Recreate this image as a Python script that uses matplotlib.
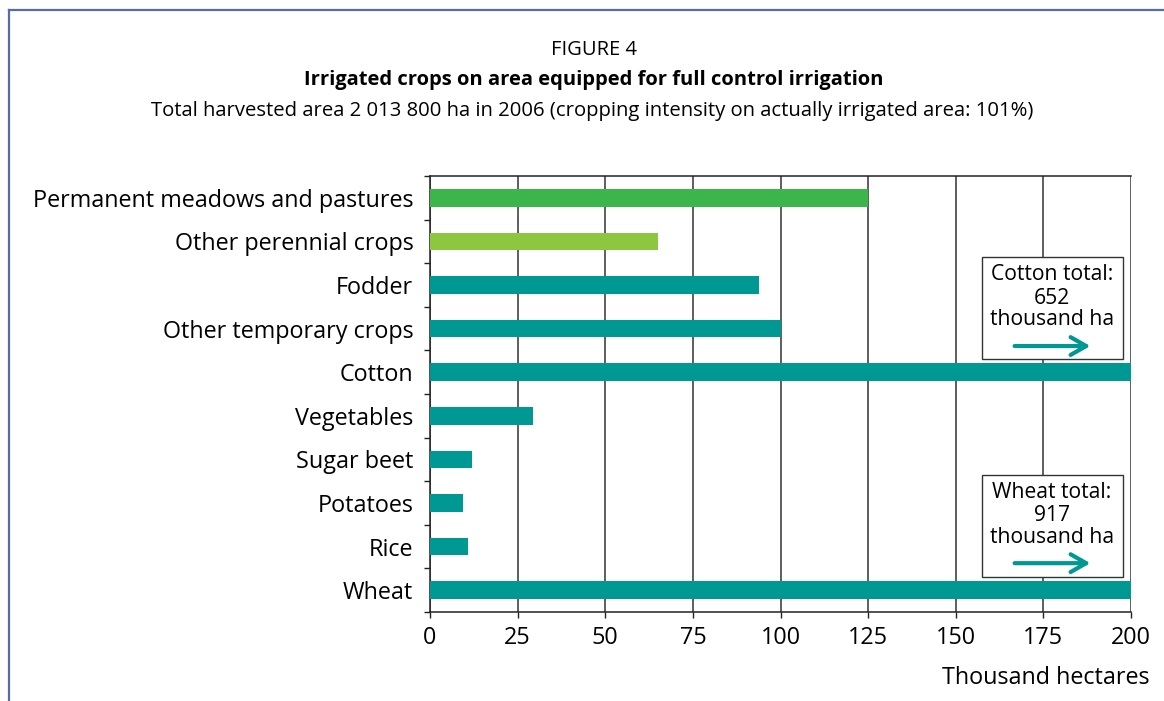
import matplotlib
matplotlib.use("Agg")
import matplotlib.pyplot as plt
from matplotlib.patches import Rectangle, FancyArrowPatch
from matplotlib.lines import Line2D
import numpy as np

plt.rcParams['font.family'] = ['Open Sans', 'DejaVu Sans']

# Irrigated crops, thousand hectares (top to bottom)
crops = ["Permanent meadows and pastures", "Other perennial crops", "Fodder",
         "Other temporary crops", "Cotton", "Vegetables", "Sugar beet",
         "Potatoes", "Rice", "Wheat"]
area_kha = [125, 65, 94, 100, 652, 29.5, 12, 9.3, 10.8, 917]
groups = ["permanent", "perennial", "temporary", "temporary", "temporary",
          "temporary", "temporary", "temporary", "temporary", "temporary"]
group_colors = {"permanent": "#3cb54a", "perennial": "#8dc63f", "temporary": "#009893"}

x_ticks = [0, 25, 50, 75, 100, 125, 150, 175, 200]
x_max = 200

fig = plt.figure(figsize=(11.64, 7.01), dpi=100)

# outer frame lines (top and left)
frame_color = "#5a6aa6"
fig.add_artist(Line2D([8.5 / 1164, 1.0], [1 - 10 / 701, 1 - 10 / 701],
                      transform=fig.transFigure, color=frame_color, lw=1.6))
fig.add_artist(Line2D([8.5 / 1164, 8.5 / 1164], [0, 1 - 10 / 701],
                      transform=fig.transFigure, color=frame_color, lw=1.6))

fig.text(594 / 1164, 1 - 50 / 701, "FIGURE 4", ha="center", va="center", fontsize=14.5)
fig.text(594 / 1164, 1 - 80 / 701, "Irrigated crops on area equipped for full control irrigation",
         ha="center", va="center", fontsize=14.5, fontweight="bold")
fig.text(592 / 1164, 1 - 111 / 701,
         "Total harvested area 2 013 800 ha in 2006 (cropping intensity on actually irrigated area: 101%)",
         ha="center", va="center", fontsize=14.6)

ax = fig.add_axes([430 / 1164, 1 - 612 / 701, 701 / 1164, 436 / 701])

n = len(crops)
ypos = np.arange(n)[::-1]
colors = [group_colors[g] for g in groups]
ax.barh(ypos, area_kha, height=0.40, color=colors, zorder=3)

ax.set_xlim(0, x_max)
ax.set_ylim(-0.5, n - 0.5)
ax.set_xticks(x_ticks)
ax.set_yticks(ypos)
ax.set_yticklabels(crops, fontsize=16.8)
ax.set_yticks(np.arange(-0.5, n, 1.0), minor=True)
ax.tick_params(axis="y", which="major", length=0, pad=12)
ax.tick_params(axis="y", which="minor", length=4, width=1, direction="out", color="#222222")
ax.tick_params(axis="x", which="major", length=4, width=1, direction="out", labelsize=16.8,
               pad=6, color="#222222")
ax.xaxis.grid(True, color="#333333", lw=1.1, zorder=1)

ax.spines["right"].set_visible(False)
for side in ["top", "bottom", "left"]:
    ax.spines[side].set_color("#222222")
    ax.spines[side].set_linewidth(1.1)

fig.text(1150 / 1164, 1 - 678 / 701, "Thousand hectares", ha="right", va="center", fontsize=16.8)

# note boxes for the bars that run off the scale
teal = group_colors["temporary"]
notes = [
    ("Cotton total:", "652", 0.814, 0.580, [0.773, 0.720, 0.670], 0.610),
    ("Wheat total:", "917", 0.314, 0.080, [0.273, 0.222, 0.172], 0.112),
]
for head, value, top, bottom, text_y, arrow_y in notes:
    ax.add_patch(Rectangle((0.787, bottom), 0.989 - 0.787, top - bottom,
                           transform=ax.transAxes, facecolor="white",
                           edgecolor="#333333", lw=1.0, zorder=5))
    for txt, ty in zip([head, value, "thousand ha"], text_y):
        ax.text(0.887, ty, txt, transform=ax.transAxes, ha="center", va="center",
                fontsize=15.2, zorder=6)
    ax.add_patch(FancyArrowPatch((0.830, arrow_y), (0.946, arrow_y), transform=ax.transAxes,
                                 arrowstyle="->,head_length=7,head_width=4", color=teal,
                                 lw=3, mutation_scale=1.6, zorder=6))

fig.savefig("out.png", dpi=100)
